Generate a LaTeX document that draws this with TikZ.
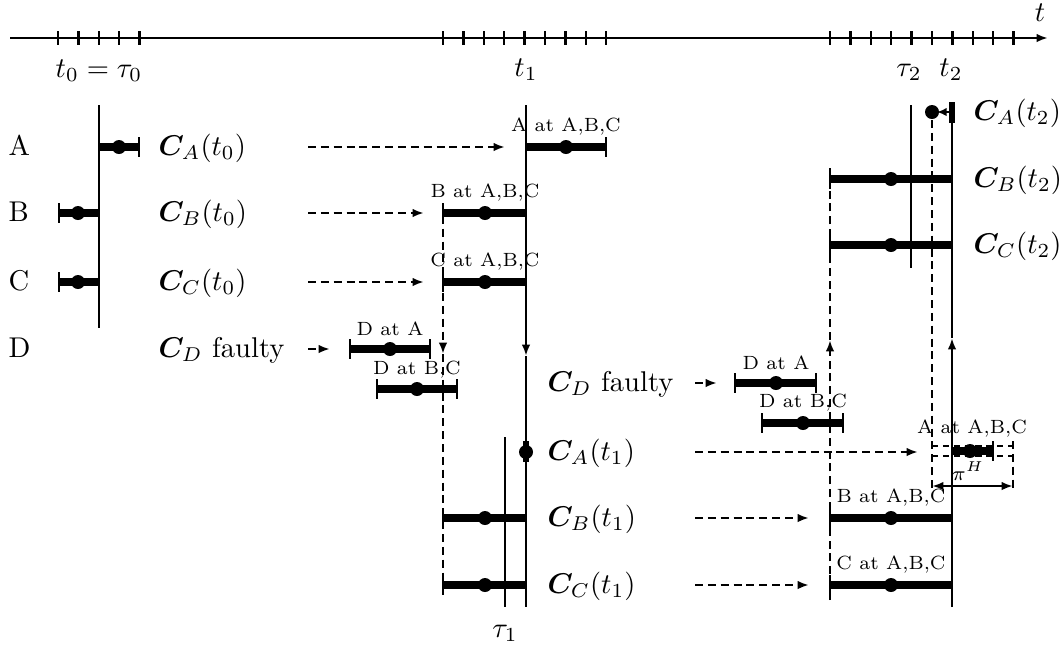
\documentclass[tikz,border=0pt]{standalone}
\usepackage{amsmath,bm}
\usetikzlibrary{arrows.meta}
\newcommand\drawivl[4]{% x1, x2, xdot, y
  \draw[barline] (#1,#4) -- (#2,#4);
  \draw[brkline] (#1,#4-10) -- (#1,#4+10);
  \draw[brkline] (#2,#4-10) -- (#2,#4+10);
  \fill (#3,#4) circle[radius=7];
}
\begin{document}
\begin{tikzpicture}[x=0.35pt,y=-0.35pt,
  thinline/.style={line width=0.8pt},
  barline/.style={line width=2.8pt},
  brkline/.style={line width=0.9pt},
  dashline/.style={line width=0.8pt, dash pattern=on 2.8pt off 1.7pt},
  tipped/.style={-{Latex[length=4pt,width=3pt]}},
  lab/.style={inner sep=0pt, font=\fontsize{10}{12}\selectfont},
  small/.style={inner sep=0pt, font=\fontsize{6.7}{8}\selectfont, anchor=base}]
\useasboundingbox (0,0) rectangle (1060,648);

% time axis
\coordinate (ax0) at (10,38);
\coordinate (ax1) at (1048,38);
\draw[line width=0.9pt, tipped] (ax0) -- (ax1);
\node[lab, anchor=base] (tlab) at (1040,21) {$t$};
\foreach \i in {0,...,4} {\draw[line width=0.9pt] (58+\i*20.4,31) -- (58+\i*20.4,45);}
\foreach \i in {0,...,8} {\draw[line width=0.9pt] (443+\i*20.4,31) -- (443+\i*20.4,45);}
\foreach \i in {0,...,9} {\draw[line width=0.9pt] (830+\i*20.4,31) -- (830+\i*20.4,45);}
\node[lab, anchor=base] (t0lab) at (99,77) {$t_0=\tau_0$};
\node[lab, anchor=base] (t1lab) at (526,76) {$t_1$};
\node[lab, anchor=base] (tau2lab) at (909,76) {$\tau_2$};
\node[lab, anchor=base] (t2lab) at (951,76) {$t_2$};
\node[lab, anchor=base] (tau1lab) at (505,637) {$\tau_1$};

% row labels
\node[lab, anchor=base west] (rA) at (8,155) {A};
\node[lab, anchor=base west] (rB) at (8,221) {B};
\node[lab, anchor=base west] (rC) at (8,290) {C};
\node[lab, anchor=base west] (rD) at (8,357) {D};

% t0 column
\draw[thinline] (99,105) -- (99,328);
\drawivl{99}{139}{119}{147}
\drawivl{59}{99}{78}{213}
\drawivl{59}{99}{78}{282}
\node[lab, anchor=base west] (cA0) at (158,155) {$\bm{C}_A(t_0)$};
\node[lab, anchor=base west] (cB0) at (158,221) {$\bm{C}_B(t_0)$};
\node[lab, anchor=base west] (cC0) at (158,290) {$\bm{C}_C(t_0)$};
\node[lab, anchor=base west] (cD0) at (158,357) {$\bm{C}_D$ faulty};

\coordinate (sA0) at (308,147); \coordinate (eA0) at (505,147);
\coordinate (sB0) at (308,213); \coordinate (eB0) at (424,213);
\coordinate (sC0) at (308,282); \coordinate (eC0) at (424,282);
\coordinate (sD0) at (308,349); \coordinate (eD0) at (330,349);
\draw[dashline, tipped] (sA0) -- (eA0);
\draw[dashline, tipped] (sB0) -- (eB0);
\draw[dashline, tipped] (sC0) -- (eC0);
\draw[dashline, tipped] (sD0) -- (eD0);

% t1 column
\coordinate (t1top) at (526,105);
\coordinate (t1mid) at (526,356);
\coordinate (t1bot) at (526,607);
\draw[thinline, tipped] (t1top) -- (t1mid);
\draw[thinline] (t1mid) -- (t1bot);
\draw[thinline] (505,437) -- (505,607);
\coordinate (d1top) at (443,203);
\coordinate (d1mid) at (443,354);
\coordinate (d1bot) at (443,598);
\draw[dashline, tipped] (d1top) -- (d1mid);
\draw[dashline] (d1mid) -- (d1bot);

\drawivl{526}{606}{566}{147}
\node[small] (sA1) at (566,131) {A at A,B,C};
\drawivl{443}{526}{485}{213}
\node[small] (sB1) at (485,197) {B at A,B,C};
\drawivl{443}{526}{485}{282}
\node[small] (sC1) at (485,266) {C at A,B,C};
\drawivl{350}{430}{390}{349}
\node[small] (sDA1) at (390,335) {D at A};
\drawivl{377}{457}{417}{389}
\node[small] (sDB1) at (417,374) {D at B,C};

\draw[line width=1.8pt] (526,441) -- (526,462);
\fill (526,452) circle[radius=7];
\drawivl{443}{526}{485}{518}
\drawivl{443}{526}{485}{585}

\node[lab, anchor=base west] (cD1) at (547,391) {$\bm{C}_D$ faulty};
\node[lab, anchor=base west] (cA1) at (547,460) {$\bm{C}_A(t_1)$};
\node[lab, anchor=base west] (cB1) at (547,526) {$\bm{C}_B(t_1)$};
\node[lab, anchor=base west] (cC1) at (547,593) {$\bm{C}_C(t_1)$};

\coordinate (sD1) at (695,383); \coordinate (eD1) at (717,383);
\coordinate (sA1a) at (695,452); \coordinate (eA1a) at (918,452);
\coordinate (sB1a) at (695,518); \coordinate (eB1a) at (809,518);
\coordinate (sC1a) at (695,585); \coordinate (eC1a) at (809,585);
\draw[dashline, tipped] (sD1) -- (eD1);
\draw[dashline, tipped] (sA1a) -- (eA1a);
\draw[dashline, tipped] (sB1a) -- (eB1a);
\draw[dashline, tipped] (sC1a) -- (eC1a);

% t2 column
\drawivl{735}{816}{776}{383}
\node[small] (sDA2) at (776,369) {D at A};
\drawivl{762}{843}{803}{423}
\node[small] (sDB2) at (803,407) {D at B,C};

\coordinate (d2bot) at (830,600);
\coordinate (d2mid) at (830,340);
\coordinate (d2top) at (830,168);
\draw[dashline, tipped] (d2bot) -- (d2mid);
\draw[dashline] (d2mid) -- (d2top);

\coordinate (t2bot) at (952,607);
\coordinate (t2mid) at (952,338);
\coordinate (t2top) at (952,103);
\draw[thinline, tipped] (t2bot) -- (t2mid);
\draw[thinline] (t2mid) -- (t2top);
\draw[thinline] (911,105) -- (911,268);

% A at t2
\draw[line width=1.8pt] (952,102) -- (952,123);
\coordinate (a2from) at (950,112);
\coordinate (a2dot) at (932,112);
\fill (a2dot) circle[radius=7];
\draw[thinline, -{Latex[length=3.4pt,width=3pt]}] (a2from) -- (937,112);
\draw[dashline] (932,120) -- (932,490);

\drawivl{830}{952}{891}{179}
\drawivl{830}{952}{891}{245}
\node[lab, anchor=base west] (cA2) at (973,120) {$\bm{C}_A(t_2)$};
\node[lab, anchor=base west] (cB2) at (973,187) {$\bm{C}_B(t_2)$};
\node[lab, anchor=base west] (cC2) at (973,253) {$\bm{C}_C(t_2)$};

% A at A,B,C (right)
\draw[line width=0.6pt, dash pattern=on 2.2pt off 1.6pt] (932,446) -- (1013,446);
\draw[line width=0.6pt, dash pattern=on 2.2pt off 1.6pt] (932,456) -- (1013,456);
\draw[dashline] (1013,441) -- (1013,490);
\drawivl{952}{993}{970}{451}
\node[small] (sA2) at (972,433) {A at A,B,C};
\coordinate (piL) at (932,486);
\coordinate (piR) at (1013,486);
\draw[thinline, {Latex[length=4pt,width=3pt]}-{Latex[length=4pt,width=3pt]}] (piL) -- (piR);
\node[small, font=\fontsize{7}{8}\selectfont] (pilab) at (968,480) {$\pi^H$};

\drawivl{830}{952}{891}{518}
\node[small] (sB2) at (891,502) {B at A,B,C};
\drawivl{830}{952}{891}{585}
\node[small] (sC2) at (891,569) {C at A,B,C};
\end{tikzpicture}
\end{document}
